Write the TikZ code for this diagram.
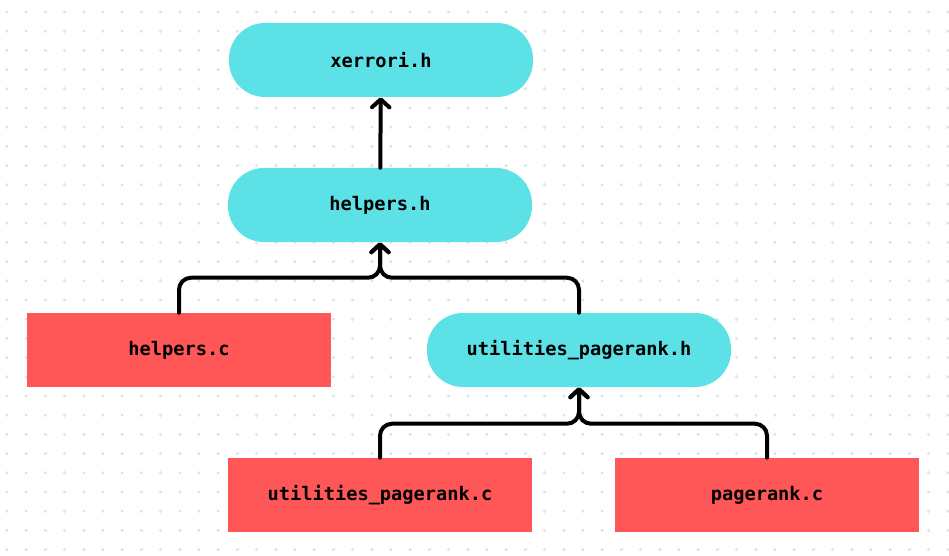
\documentclass[tikz,border=0pt]{standalone}
\usepackage{fontspec}
\setmonofont{DejaVu Sans Mono}
\usetikzlibrary{arrows.meta}
\definecolor{pill}{HTML}{5CE1E6}
\definecolor{block}{HTML}{FF5757}
\definecolor{dotgray}{HTML}{DDE3EC}
\tikzset{
	header/.style={fill=pill,rounded corners=27pt,minimum width=228pt,minimum height=55.5pt,inner sep=0pt,font=\ttfamily\bfseries\fontsize{14}{16}\selectfont},
	source/.style={header,fill=block,rounded corners=0pt},
	dep/.style={line width=3pt,rounded corners=9pt,line cap=round,-{Straight Barb[length=6pt,width=13pt,round]}}
}

\begin{document}
\begin{tikzpicture}[x=0.75pt,y=-0.75pt]
	\useasboundingbox (0,0) rectangle (949,556);
	% dotted grid
	\foreach \i in {0,...,49}
		\foreach \j in {0,...,28}
			\fill[dotgray] (7+19.2*\i,12+19.2*\j) circle[radius=1.3pt];

	\node[header] (xerrori) at (381,60) {xerrori.h};
	\node[header] (helpersh) at (380,205) {helpers.h};
	\node[source] (helpersc) at (179,350) {helpers.c};
	\node[header] (utilh) at (579,350) {utilities\_pagerank.h};
	\node[source] (utilc) at (380,495) {utilities\_pagerank.c};
	\node[source] (pagerankc) at (767,495) {pagerank.c};

	\draw[dep] (helpersh) -- (xerrori);
	\draw[dep] (helpersc.north) -- ++(0,-35) -| (helpersh.south);
	\draw[dep] (utilh.north) -- ++(0,-35) -| (helpersh.south);
	\draw[dep] (utilc.north) -- ++(0,-34) -| (utilh.south);
	\draw[dep] (pagerankc.north) -- ++(0,-34) -| (utilh.south);
\end{tikzpicture}
\end{document}
